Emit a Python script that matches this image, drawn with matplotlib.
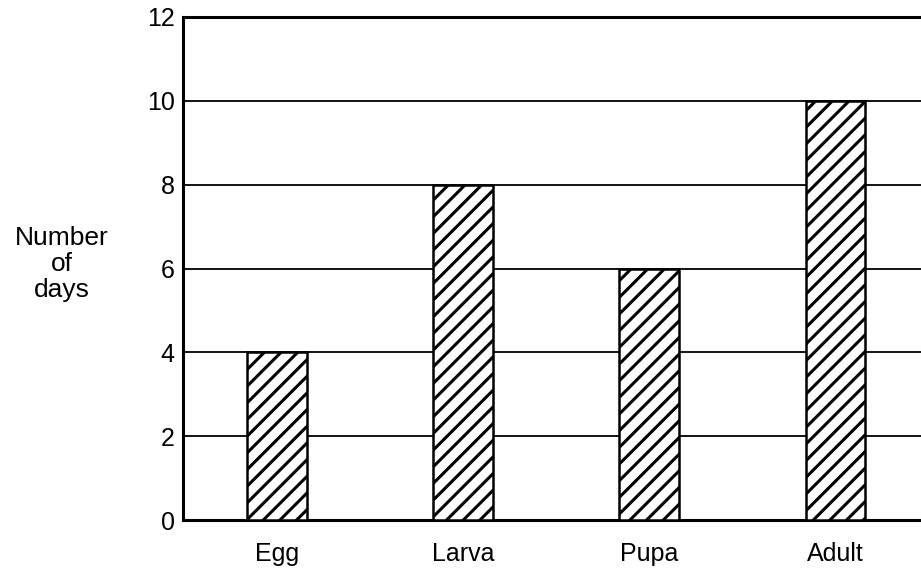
import matplotlib
matplotlib.use("Agg")
import matplotlib.pyplot as plt
import numpy as np

stages = ["Egg", "Larva", "Pupa", "Adult"]
days = [4, 8, 6, 10]
y_ticks = [0, 2, 4, 6, 8, 10, 12]

plt.rcParams["font.family"] = ["Liberation Sans", "DejaVu Sans"]
plt.rcParams["hatch.linewidth"] = 2.2
plt.rcParams["hatch.color"] = "black"

fig = plt.figure(figsize=(9.21, 5.72), dpi=100)
ax = fig.add_axes([183 / 921, 52 / 572, 1 - 183 / 921, 503 / 572])

x = np.arange(len(stages))
ax.bar(x, days, width=0.32, color="white", edgecolor="black",
       linewidth=1.8, hatch="//", zorder=3)

ax.set_ylim(0, 12)
ax.set_xlim(-0.505, 3.46)
ax.set_yticks(y_ticks)
ax.set_xticks(x)
ax.set_xticklabels(stages)
ax.tick_params(axis="both", length=0, labelsize=18, colors="black")
ax.tick_params(axis="y", pad=6)
ax.tick_params(axis="x", pad=16)

for yv in y_ticks[1:-1]:
    ax.axhline(yv, color="black", linewidth=1.3, zorder=1)

for side in ["left", "bottom", "top"]:
    ax.spines[side].set_linewidth(2.2)
ax.spines["right"].set_visible(False)

fig.text(62 / 921, 1 - 264 / 572, "Number\nof\ndays", ha="center", va="center",
         fontsize=19, linespacing=1.1)

fig.savefig("out.png", dpi=100)
